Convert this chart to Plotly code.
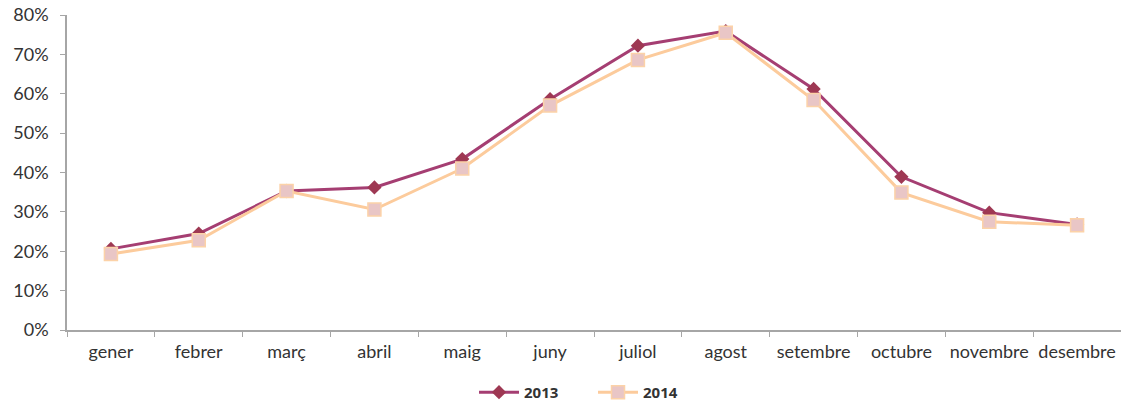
import plotly.graph_objects as go

months = ["gener", "febrer", "març", "abril", "maig", "juny", "juliol",
          "agost", "setembre", "octubre", "novembre", "desembre"]
y2013 = [20.6, 24.5, 35.3, 36.2, 43.4, 58.6, 72.2, 75.9, 61.2, 38.9, 29.8, 26.8]
y2014 = [19.3, 22.8, 35.3, 30.6, 41.0, 57.0, 68.6, 75.5, 58.4, 34.9, 27.5, 26.6]
y_ticks = [0, 10, 20, 30, 40, 50, 60, 70, 80]
y_labels = [f"{v}%" for v in y_ticks]

font_family = "Lato, Open Sans, sans-serif"

fig = go.Figure()
fig.add_trace(go.Scatter(
    x=months, y=y2013, name="<b>2013</b>", mode="lines+markers",
    line=dict(color="#A53E72", width=3),
    marker=dict(symbol="diamond", size=11, color="#9E3853",
                line=dict(color="#9E3853", width=0)),
))
fig.add_trace(go.Scatter(
    x=months, y=y2014, name="<b>2014</b>", mode="lines+markers",
    line=dict(color="#FCCB9C", width=3),
    marker=dict(symbol="square", size=13, color="#E9C6C6",
                line=dict(color="#FCD2A8", width=1.5)),
))

fig.update_layout(
    width=1121, height=411,
    margin=dict(l=67, r=0, t=15, b=81, autoexpand=False),
    paper_bgcolor="white", plot_bgcolor="white",
    font=dict(family=font_family, color="#333333", size=17),
    showlegend=True,
    legend=dict(orientation="h", xref="container", yref="container",
                x=0.529, xanchor="center", y=0.005, yanchor="bottom",
                font=dict(size=15, color="#333333", family="Open Sans, sans-serif"),
                entrywidth=64, entrywidthmode="pixels",
                itemwidth=40),
    xaxis=dict(
        type="category", showgrid=False, zeroline=False,
        showline=True, linecolor="#A6A6A6", linewidth=1.5,
        ticks="outside", tickson="boundaries", ticklen=5, tickcolor="#A6A6A6",
        tickfont=dict(size=18, color="#333333"),
        tickangle=0,
        ticklabelstandoff=5,
        range=[-0.5, 11.5],
    ),
    yaxis=dict(
        range=[0, 80], tickmode="array", tickvals=y_ticks, ticktext=y_labels,
        showgrid=False, zeroline=False,
        showline=True, linecolor="#A6A6A6", linewidth=1.5,
        ticks="outside", ticklen=5, tickcolor="#A6A6A6",
        tickfont=dict(size=18, color="#333333"),
        ticklabelstandoff=8,
    ),
)

fig.write_html("out.html")
